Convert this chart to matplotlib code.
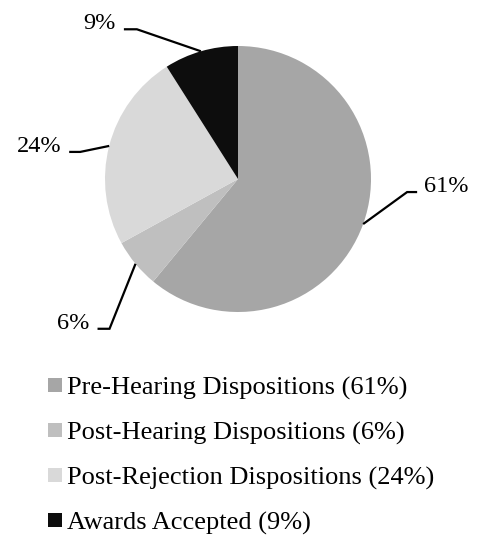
import numpy as np
import matplotlib
matplotlib.use("Agg")
import matplotlib.pyplot as plt

# data
categories = ["Pre-Hearing Dispositions", "Post-Hearing Dispositions",
              "Post-Rejection Dispositions", "Awards Accepted"]
shares = [61, 6, 24, 9]
colors = ["#a6a6a6", "#bfbfbf", "#d9d9d9", "#0d0d0d"]

# leader line layout (pixel offsets from the slice edge to the elbow, then the tail)
elbow_offsets = [(44, 32), (-26, -65), (-29, -6), (-64, 22)]
tail_lengths = [10, -12, -11, -13]

W, H = 487, 536
plt.rcParams["font.family"] = ["Liberation Serif"]

fig = plt.figure(figsize=(W / 100, H / 100), dpi=100)
ax = fig.add_axes([0, 0, 1, 1])

cx, cy, r = 238, H - 179, 133
wedges, _ = ax.pie(shares, colors=colors, startangle=90, counterclock=False,
                   center=(cx, cy), radius=r, frame=True)
ax.set_xlim(0, W)
ax.set_ylim(0, H)
ax.axis("off")

for w, val, (dx, dy), tl in zip(wedges, shares, elbow_offsets, tail_lengths):
    mid = np.deg2rad((w.theta1 + w.theta2) / 2)
    x0 = cx + r * np.cos(mid)
    y0 = cy + r * np.sin(mid)
    ex, ey = x0 + dx, y0 + dy
    tx = ex + tl
    ax.plot([x0, ex, tx], [y0, ey, ey], color="black", lw=1.6,
            solid_capstyle="butt", solid_joinstyle="miter")
    if tl > 0:
        ax.text(tx + 7, ey, f"{val}%", ha="left", va="baseline", fontsize=17.5)
    else:
        ax.text(tx - 8, ey, f"{val}%", ha="right", va="baseline", fontsize=17.5)

labels = [f"{c} ({v}%)" for c, v in zip(categories, shares)]
fig.legend(wedges, labels, loc="upper left", bbox_to_anchor=(48 / W, 1 - 377 / H),
           frameon=False, fontsize=19, handlelength=0.54, handleheight=0.45,
           handletextpad=0.17, labelspacing=0.83, borderpad=0, borderaxespad=0)

fig.savefig("out.png", dpi=100)
